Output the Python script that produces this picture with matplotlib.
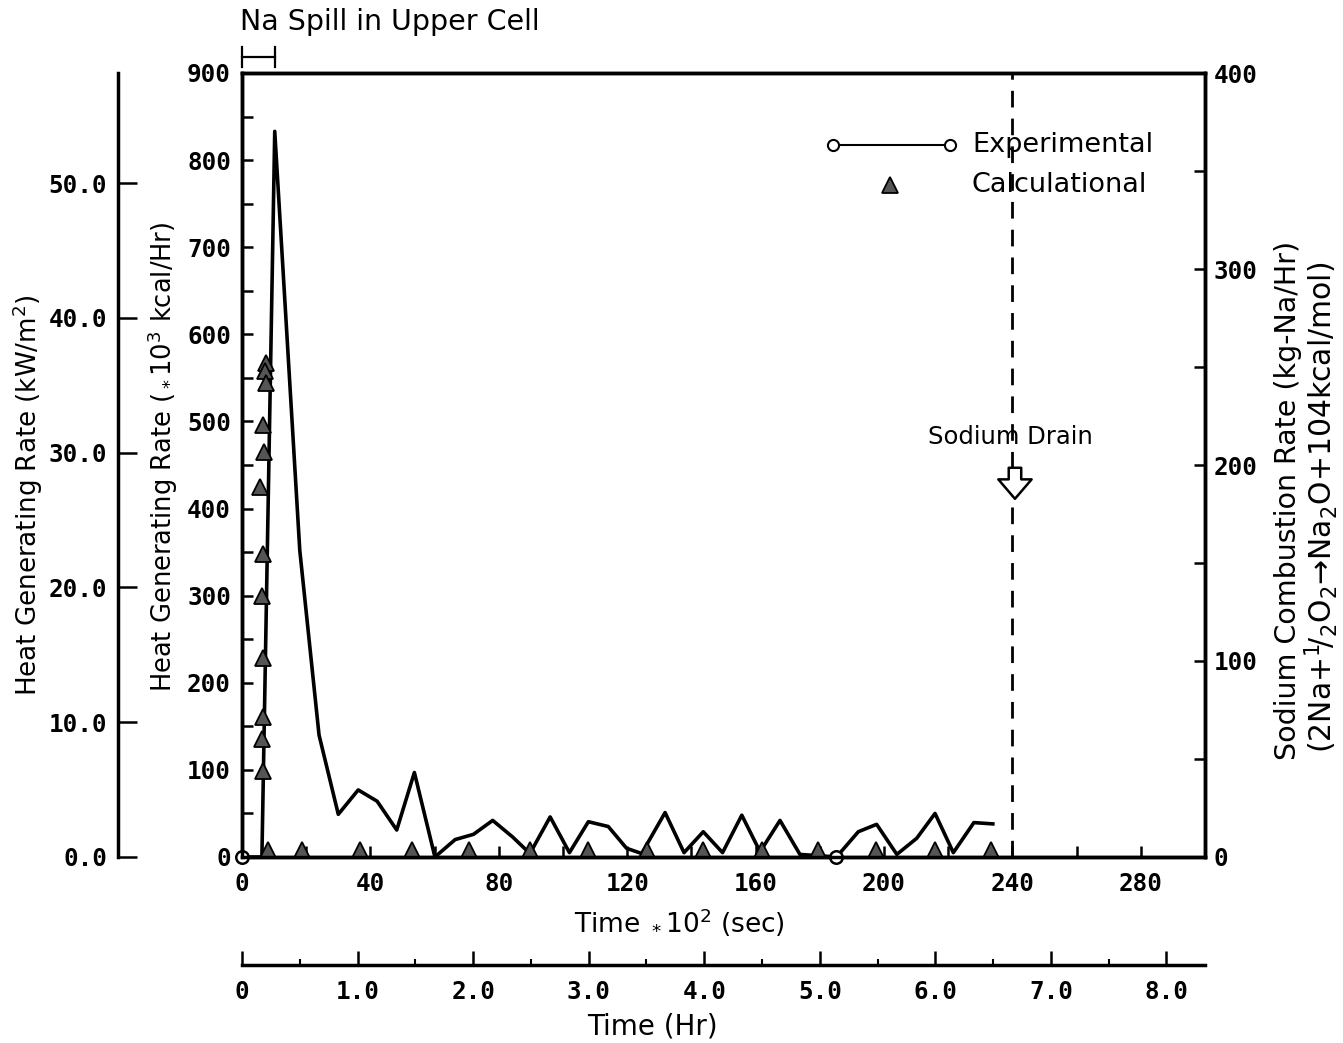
import matplotlib
matplotlib.use("Agg")
import matplotlib.pyplot as plt
import matplotlib.transforms as mtransforms
from matplotlib.ticker import MultipleLocator

# ---------------- data ----------------
exp_time = [0, 6.2, 10.2, 18.0, 24.0, 30.0, 36.2, 42.1, 48.2, 53.7, 60.1, 66.4, 72.1,
            78.1, 84.3, 89.7, 96.0, 102.0, 107.9, 114.1, 119.8, 124.5, 131.8, 137.7,
            143.7, 149.7, 155.7, 161.4, 167.6, 173.8, 185.2, 192.0, 197.7, 204.0,
            210.2, 215.9, 221.6, 228.0, 233.9]
exp_rate = [0, 0, 833, 352, 140, 49, 77, 64, 31, 97, 0, 20, 26,
            42, 23, 4, 46, 5, 40.5, 35, 10, 4, 51, 5,
            29, 5, 48, 6, 42, 3, 0, 29, 37.5, 3,
            21.5, 50, 5, 39.5, 38]
exp_marker_idx = [0, 30]

calc_time = [7.6, 7.3, 7.6, 6.5, 6.8, 5.7, 6.5, 6.3, 6.6, 6.5, 6.2, 6.4,
             8.0, 18.6, 36.8, 53.0, 70.7, 89.8, 107.9, 126.1, 143.5, 161.9,
             179.5, 197.5, 215.9, 233.2]
calc_rate = [567, 558, 544, 496, 465, 425, 348, 300, 228, 161, 135, 99,
             8, 8, 8, 8, 8, 8, 8, 8, 8, 8,
             8, 8, 8, 8]

x_ticks = [0, 40, 80, 120, 160, 200, 240, 280]
y_ticks = [0, 100, 200, 300, 400, 500, 600, 700, 800, 900]
kw_ticks = [0, 10, 20, 30, 40, 50]
right_ticks = [0, 100, 200, 300, 400]
hr_ticks = [0, 1, 2, 3, 4, 5, 6, 7, 8]
hr_labels = ["0", "1.0", "2.0", "3.0", "4.0", "5.0", "6.0", "7.0", "8.0"]

drain_time = 240
spill_end = 10.3

# ---------------- figure ----------------
W, H = 1343, 1043
fig = plt.figure(figsize=(W / 100, H / 100), dpi=100)
fig.patch.set_facecolor("white")

NUM = dict(family="DejaVu Sans Mono", weight="bold", size=17.5)
FAM = "DejaVu Sans"

L, R, T, B = 242, 1205, 73, 857
ax = fig.add_axes([L / W, 1 - B / H, (R - L) / W, (B - T) / H])
ax.set_xlim(0, 300)
ax.set_ylim(0, 900)
for s in ax.spines.values():
    s.set_linewidth(2.5)
ax.set_xticks(x_ticks)
ax.set_xticklabels([str(v) for v in x_ticks], **NUM)
ax.xaxis.set_minor_locator(MultipleLocator(20))
ax.set_yticks(y_ticks)
ax.set_yticklabels([str(v) for v in y_ticks], **NUM)
ax.yaxis.set_minor_locator(MultipleLocator(50))
ax.tick_params(axis="x", which="both", direction="in", length=8, width=1.8, pad=11, top=False)
ax.tick_params(axis="y", which="both", direction="in", length=8, width=1.8, pad=8, right=False)

# experimental line
ax.plot(exp_time, exp_rate, color="black", lw=2.6, zorder=3, clip_on=False)
ax.plot([exp_time[i] for i in exp_marker_idx], [exp_rate[i] for i in exp_marker_idx],
        ls="none", marker="o", ms=9, mfc="white", mec="black", mew=1.8, zorder=6, clip_on=False)
# calculational
ax.plot(calc_time, calc_rate, ls="none", marker="^", ms=12, mfc="#555555", mec="black",
        mew=1.3, zorder=4)

# sodium drain
ax.axvline(drain_time, color="black", lw=2, ls=(0, (6, 4)), zorder=2)
ax.text(239.3, 482, "Sodium Drain", ha="center", va="center", fontsize=17.5, family=FAM)
ax.annotate("", xy=(240.8, 408), xytext=(240.8, 450),
            arrowprops=dict(arrowstyle="simple,head_length=0.7,head_width=1.2,tail_width=0.45",
                            mutation_scale=20, fc="white", ec="black", lw=1.8), zorder=5)

# legend (manual)
ax.plot([184.1, 220.6], [817.4, 817.4], color="black", lw=1.5, marker="o", ms=8,
        mfc="white", mec="black", mew=1.5)
ax.plot([201.9], [771.5], ls="none", marker="^", ms=12, mfc="#555555", mec="black", mew=1.3)
ax.text(227.4, 817.4, "Experimental", va="center", ha="left", fontsize=19.5, family=FAM)
ax.text(227.4, 771.5, "Calculational", va="center", ha="left", fontsize=19.5, family=FAM)

# Na spill bracket
tr = mtransforms.blended_transform_factory(ax.transData, fig.transFigure)
yb = 1 - 57 / H
ax.plot([0, spill_end], [yb, yb], color="black", lw=1.6, transform=tr, clip_on=False)
for xv in (0, spill_end):
    ax.plot([xv, xv], [1 - 47 / H, 1 - 67 / H], color="black", lw=1.6, transform=tr, clip_on=False)
fig.text(240 / W, 1 - 22 / H, "Na Spill in Upper Cell", ha="left", va="center", fontsize=20.5,
         family=FAM)

# right axis
ax2 = ax.twinx()
ax2.set_ylim(0, 400)
ax2.set_yticks(right_ticks)
ax2.set_yticklabels([str(v) for v in right_ticks], **NUM)
ax2.yaxis.set_minor_locator(MultipleLocator(50))
ax2.tick_params(axis="y", which="both", direction="in", length=8, width=1.8, pad=6)
for s in ax2.spines.values():
    s.set_linewidth(2.5)

# outer left axis (kW/m2)
axo = fig.add_axes([118 / W, 1 - B / H, 0.0005, (B - T) / H])
axo.set_ylim(0, 58.17)
axo.patch.set_visible(False)
for k in ("top", "right", "bottom"):
    axo.spines[k].set_visible(False)
axo.spines["left"].set_linewidth(2.5)
axo.set_xticks([])
axo.set_yticks(kw_ticks)
axo.set_yticklabels([f"{v:.1f}" for v in kw_ticks], **NUM)
axo.tick_params(axis="y", direction="in", length=14, width=1.8, pad=8)

# hour axis
axh = fig.add_axes([L / W, 1 - 965 / H, (R - L) / W, 0.0001])
axh.set_xlim(0, 300 / 36)
axh.patch.set_visible(False)
for k in ("top", "right", "left"):
    axh.spines[k].set_visible(False)
axh.spines["bottom"].set_linewidth(2.5)
axh.set_yticks([])
axh.set_xticks(hr_ticks)
axh.set_xticklabels(hr_labels, **NUM)
axh.xaxis.set_minor_locator(MultipleLocator(0.5))
axh.tick_params(axis="x", which="major", direction="in", length=10, width=1.8, pad=11)
axh.tick_params(axis="x", which="minor", direction="in", length=4, width=1.5)

# axis labels
fig.text(28 / W, 1 - 495 / H, "Heat Generating Rate (kW/m$^2$)", rotation=90, ha="center",
         va="center", family=FAM, size=18.8)
fig.text(163 / W, 1 - 457 / H, "Heat Generating Rate ($_*$10$^3$ kcal/Hr)", rotation=90,
         ha="center", va="center", family=FAM, size=18.5)
fig.text(679 / W, 1 - 922 / H, "Time $_*$10$^2$ (sec)", ha="center", va="center",
         family=FAM, size=19)
fig.text(652 / W, 1 - 1027 / H, "Time (Hr)", ha="center", va="center", family=FAM, size=20)
fig.text(1288 / W, 1 - 500 / H, "Sodium Combustion Rate (kg-Na/Hr)", rotation=90,
         ha="center", va="center", family=FAM, size=20.5)
fig.text(1321 / W, 1 - 507 / H, "(2Na+$^1\\!/_2$O$_2$→Na$_2$O+104kcal/mol)", rotation=90,
         ha="center", va="center", family=FAM, size=21.5)

fig.savefig("out.png", dpi=100, facecolor="white")
